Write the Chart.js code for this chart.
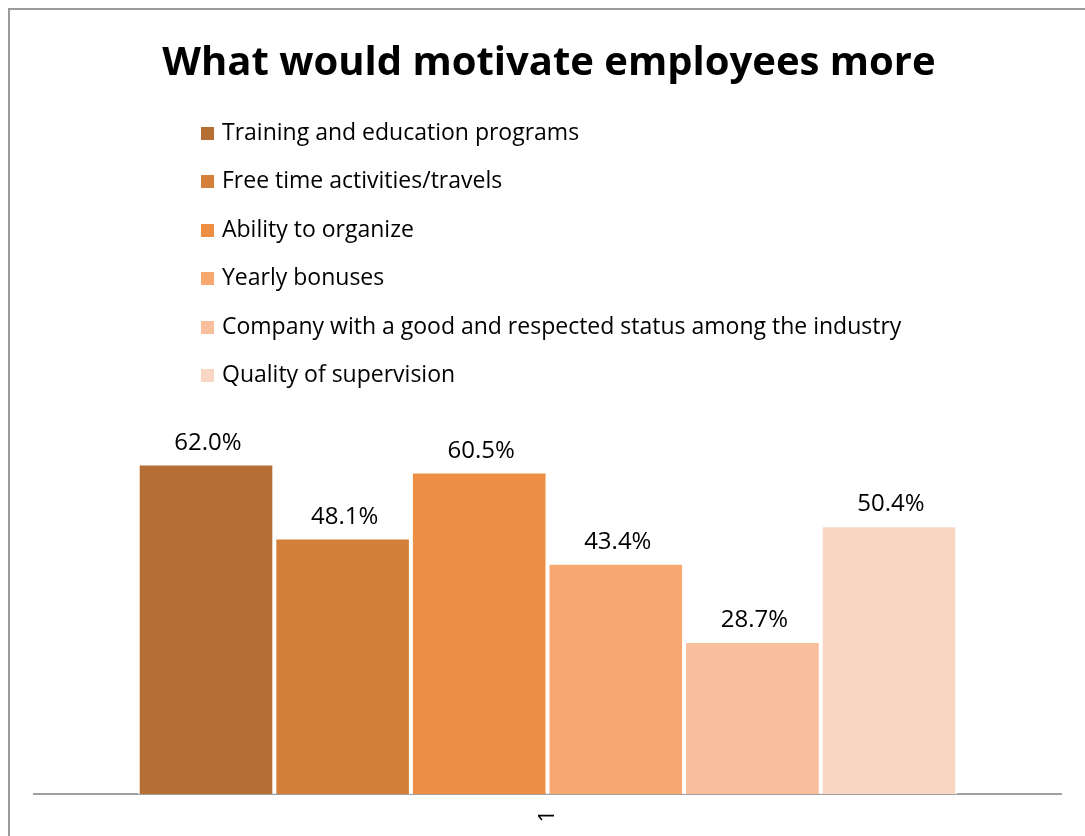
<!DOCTYPE html>
<html>
<head>
<meta charset="utf-8">
<script src="https://cdn.jsdelivr.net/npm/chart.js@4"></script>
<style>
  html, body { margin: 0; padding: 0; background: #fff; }
  #wrap { position: relative; width: 1085px; height: 836px; }
  #frame { position: absolute; left: 8px; top: 8px; width: 1100px; height: 900px;
           border-left: 2px solid #9a9a9a; border-top: 2px solid #9a9a9a; box-sizing: border-box; }
  #title { position: absolute; left: 0; width: 1098px; top: 32px; text-align: center;
           font: bold 40px "Open Sans", sans-serif; color: #000; }
  #legend { position: absolute; left: 201px; top: 114px; margin: 0; padding: 0; list-style: none;
            font: 23px "Open Sans", sans-serif; color: #000; }
  #legend li { height: 48.4px; line-height: 34px; white-space: nowrap; }
  #legend span.box { display: inline-block; width: 13px; height: 13px; margin-right: 8px; vertical-align: 0px; }
  canvas { position: absolute; left: 0; top: 0; }
</style>
</head>
<body>
<div id="wrap">
  <div id="frame"></div>
  <canvas id="chart" width="1085" height="836"></canvas>
  <div id="title">What would motivate employees more</div>
  <ul id="legend"></ul>
</div>
<script>
// chart data
var categories = ['1'];
var seriesNames = [
    'Training and education programs',
    'Free time activities/travels',
    'Ability to organize',
    'Yearly bonuses',
    'Company with a good and respected status among the industry',
    'Quality of supervision'
];
var seriesValues = [62.0, 48.1, 60.5, 43.4, 28.7, 50.4];
var seriesColors = ['#b56e33', '#d4803b', '#ec8f44', '#f7a770', '#f9be9c', '#f9d5c3'];

var datasets = seriesNames.map(function(name, i) {
    return {
        label: name,
        data: [seriesValues[i]],
        backgroundColor: seriesColors[i],
        borderColor: '#ffffff',
        borderWidth: 2,
        categoryPercentage: 0.798,
        barPercentage: 1.0
    };
});

// value labels above each bar
var valueLabels = {
    id: 'valueLabels',
    afterDatasetsDraw: function(chart) {
        var ctx = chart.ctx;
        ctx.save();
        ctx.font = '24px "Open Sans", sans-serif';
        ctx.fillStyle = '#000';
        ctx.textAlign = 'center';
        ctx.textBaseline = 'alphabetic';
        chart.data.datasets.forEach(function(ds, i) {
            var meta = chart.getDatasetMeta(i);
            meta.data.forEach(function(bar, j) {
                ctx.fillText(ds.data[j].toFixed(1) + '%', bar.x + 2, bar.y - 14);
            });
        });
        ctx.restore();
    }
};

var chart = new Chart(document.getElementById('chart'), {
    type: 'bar',
    data: {
        labels: categories,
        datasets: datasets
    },
    options: {
        responsive: false,
        animation: false,
        layout: {
            padding: {top: 423, left: 34, right: 24, bottom: 12}
        },
        scales: {
            y: {
                display: false,
                min: 0,
                max: 69.6
            },
            x: {
                grid: {display: false, drawTicks: false},
                border: {display: true, color: '#a0a0a0', width: 2},
                ticks: {
                    color: '#000',
                    font: {family: 'Open Sans', size: 22},
                    minRotation: 90,
                    maxRotation: 90,
                    padding: 16
                },
                afterFit: function(scale) {
                    scale.height = 30;
                }
            }
        },
        plugins: {
            legend: {display: false},
            tooltip: {enabled: false}
        }
    },
    plugins: [valueLabels]
});

// legend list built from the datasets
var legend = document.getElementById('legend');
chart.data.datasets.forEach(function(ds) {
    var li = document.createElement('li');
    var box = document.createElement('span');
    box.className = 'box';
    box.style.background = ds.backgroundColor;
    li.appendChild(box);
    li.appendChild(document.createTextNode(ds.label));
    legend.appendChild(li);
});
</script>
</body>
</html>
